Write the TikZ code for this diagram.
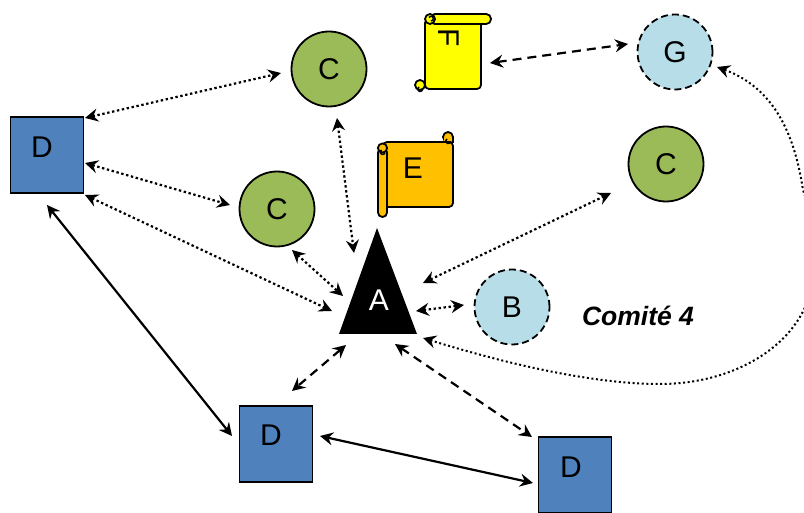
\documentclass[tikz,border=0pt]{standalone}
\usepackage{fontspec}
\setmainfont{Liberation Sans}
\usetikzlibrary{arrows.meta,calc}
\definecolor{cgreen}{HTML}{9BBB59}
\definecolor{cblue}{HTML}{4F81BD}
\definecolor{clight}{HTML}{B7DDE8}
\definecolor{cyel}{HTML}{FFFF00}
\definecolor{corg}{HTML}{FFC000}
\tikzset{
  x=1pt,y=-1pt,
  txt/.style={font=\fontsize{30}{31}\selectfont,inner sep=0pt},
  comite/.style={circle,draw=black,line width=1.8pt,fill=cgreen,minimum size=75pt,inner sep=0pt,txt},
  guest/.style={circle,draw=black,line width=1.8pt,dash pattern=on 7pt off 4pt,fill=clight,minimum size=75pt,inner sep=0pt,txt},
  sq/.style={rectangle,draw=black,line width=1.2pt,fill=cblue,minimum width=73pt,minimum height=76pt,inner sep=0pt},
  dbl/.style={{Stealth[length=13pt,width=13pt,inset=4.5pt]}-{Stealth[length=13pt,width=13pt,inset=4.5pt]},line width=2.2pt},
  dot/.style={dbl,dash pattern=on 2.4pt off 2.6pt},
  dsh/.style={dbl,dash pattern=on 9pt off 6pt},
  sol/.style={dbl},
  scroll/.style={draw=black,line width=1.8pt,line join=round},
  hole/.style={inner sep=0pt,minimum width=60pt,minimum height=70pt},
}
\begin{document}
\begin{tikzpicture}
\clip (0,0) rectangle (804,513);
% scroll F
\draw[scroll,fill=cyel,rounded corners=4pt] (425,19) -- (425,89) -- (481,89) -- (481,19) -- cycle;
\draw[scroll,fill=cyel] (420,85) circle (5);
\draw[scroll,line width=1.5pt] (419,87) arc (240:10:2.4);
\draw[scroll,fill=cyel,rounded corners=4.8pt] (430,14) -- (491,14) -- (491,24) -- (430,24) -- cycle;
\draw[scroll,fill=cyel] (430,19) circle (5);
\draw[scroll,line width=1.5pt] (431,21) arc (90:-150:2.4);
% scroll E
\draw[scroll,fill=corg] (448,137) circle (5);
\draw[scroll,fill=corg,rounded corners=4pt] (383,142) -- (453,142) -- (453,207) -- (383,207) -- cycle;
\draw[scroll,fill=corg,draw=none] (443.5,137) rectangle (452.5,141);
\draw[scroll] (453,137) -- (453,143);
\draw[scroll,line width=1.5pt] (447,139) arc (240:10:2.4);
\draw[scroll,fill=corg,rounded corners=4.4pt] (378,148) -- (387,148) -- (387,217) -- (378,217) -- cycle;
\draw[scroll,fill=corg] (382.5,148) circle (4.6);
\draw[scroll,line width=1.5pt] (381.5,150) arc (240:10:2.4);
% triangle A
\fill[black] (377,228) -- (417,334) -- (339,334) -- cycle;
% nodes
\node[comite] (C1) at (329,69) {C};
\node[comite] (C2) at (277,209) {C};
\node[comite] (C3) at (666,164) {C};
\node[guest] (G) at (675,52) {G};
\node[guest] (B) at (512,307) {B};
\node[sq] (D1) at (47,155) {};
\node[sq] (D2) at (276,444) {};
\node[sq] (D3) at (575,475) {};
\node[txt] (D1t) at (42,147) {D};
\node[txt] (D2t) at (271,435) {D};
\node[txt] (D3t) at (571,467) {D};
\node[txt,text=white] (A) at (379,300) {A};
\node[txt] (Et) at (413,168) {E};
\node[txt,rotate=-90] (Ft) at (449,38) {F};
\node[hole] (F) at (453,52) {};
\node[inner sep=0pt,font=\fontsize{26.5}{28}\selectfont\bfseries\itshape] (Cm) at (638,316) {Comité 4};
% connectors
\draw[dot] ($(D1)+(38,-37)$) -- ($(C1)+(-48,4)$);
\draw[dot] ($(D1)+(38,8)$) -- ($(C2)+(-47,-4)$);
\draw[dot] ($(D1)+(38,40)$) -- ($(A)+(-47,11)$);
\draw[sol] ($(D1)+(0,50)$) -- ($(D2)+(-44,-8)$);
\draw[dot] ($(C1)+(8,49)$) -- ($(A)+(-25,-47)$);
\draw[dot] ($(C2)+(15,41)$) -- ($(A)+(-36,-4)$);
\draw[dot] ($(C3)+(-55,29)$) -- ($(A)+(44,-17)$);
\draw[dot] ($(A)+(37,11)$) -- ($(B)+(-48,-2)$);
\draw[dsh] ($(F)+(37,11)$) -- ($(G)+(-47,-8)$);
\draw[dsh] ($(A)+(-33,45)$) -- ($(D2)+(16,-53)$);
\draw[dsh] ($(A)+(16,44)$) -- ($(D3)+(-43,-38)$);
\draw[sol] ($(D2)+(44,-8)$) -- ($(D3)+(-42,8)$);
\draw[dbl,dash pattern=on 2pt off 2.6pt,line width=2pt] ($(A)+(44,38)$) .. controls (520,368) and (600,384) .. (660,384)
  .. controls (730,384) and (790,350) .. (808,300)
  .. controls (820,260) and (812,215) .. (803,190)
  .. controls (796,145) and (780,90) .. ($(G)+(42,15)$);
\end{tikzpicture}
\end{document}
